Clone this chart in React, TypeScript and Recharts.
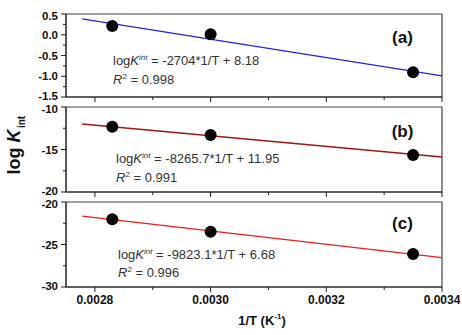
import React from 'react';
import {
  ComposedChart,
  Line,
  Scatter,
  XAxis,
  YAxis,
  ReferenceArea,
} from 'recharts';

// inverse temperature of the three measurements (1/K)
const invT = [0.00283, 0.003, 0.00335];
// intrinsic constants, one array per panel
const logKa = [0.21, 0.01, -0.905];
const logKb = [-12.32, -13.29, -15.65];
const logKc = [-22.04, -23.49, -26.12];

// ends of the fitted lines
const fitX = [0.002778, 0.0034];
const fitA = [0.38, -0.99];
const fitB = [-12.0, -15.88];
const fitC = [-21.65, -26.55];

const xDomain: [number, number] = [0.00275, 0.0034];
const xTicks = [0.0028, 0.003, 0.0032, 0.0034];
const xMinorTicks = [0.0029, 0.0031, 0.0033];

const yDomainA: [number, number] = [-1.5, 0.5];
const yTicksA = [0.5, 0, -0.5, -1, -1.5];
const yMinorA = [0.25, -0.25, -0.75, -1.25];
const yDomainB: [number, number] = [-20, -10];
const yTicksB = [-10, -15, -20];
const yMinorB = [-12.5, -17.5];
const yDomainC: [number, number] = [-30, -20];
const yTicksC = [-20, -25, -30];
const yMinorC = [-22.5, -27.5];

const equations = [
  { slope: '-2704', intercept: '8.18', r2: '0.998', tag: '(a)' },
  { slope: '-8265.7', intercept: '11.95', r2: '0.991', tag: '(b)' },
  { slope: '-9823.1', intercept: '6.68', r2: '0.996', tag: '(c)' },
];

const W = 462;
const H = 335;
const FONT = 'Liberation Sans, Arial, Helvetica, sans-serif';
const AXIS = '#222';
const X_AXIS_H = 30;
const Y_AXIS_W = 60;
const PLOT_LEFT = 66;

const pts = (ys: number[]) => invT.map((x, i) => ({ x, y: ys[i] }));
const fit = (ys: number[]) => fitX.map((x, i) => ({ x, y: ys[i] }));

const same = (a: number, b: number) => Math.abs(a - b) < 1e-9;
const isMajor = (list: number[], v: number) => list.some((t) => same(t, v));

// tick with a long mark + label for majors and a short bare mark for minors
function makeXTick(major: number[], labelled: boolean) {
  return (props: any) => {
    const { x, y, payload } = props;
    const big = isMajor(major, payload.value);
    return (
      <g>
        <line x1={x} y1={y} x2={x} y2={y + (big ? 5 : 3)} stroke={AXIS} strokeWidth={1} />
        {big && labelled && (
          <text
            x={x}
            y={y + 17}
            textAnchor="middle"
            fontSize={12}
            fontWeight={700}
            fill="#111"
            fontFamily={FONT}
          >
            {Number(payload.value).toFixed(4)}
          </text>
        )}
      </g>
    );
  };
}

// the panels sit close together, so the end labels are nudged inwards a little
function makeYTick(major: number[], domain: [number, number], digits: number) {
  return (props: any) => {
    const { x, y, payload } = props;
    const v = Number(payload.value);
    const big = isMajor(major, v);
    const nudge = same(v, domain[0]) ? -1.5 : same(v, domain[1]) ? 1.5 : 0;
    return (
      <g>
        <line x1={x - (big ? 5 : 3)} y1={y} x2={x} y2={y} stroke={AXIS} strokeWidth={1} />
        {big && (
          <text
            x={x - 8}
            y={y + 4 + nudge}
            textAnchor="end"
            fontSize={11.5}
            fontWeight={700}
            fill="#111"
            fontFamily={FONT}
          >
            {v.toFixed(digits)}
          </text>
        )}
      </g>
    );
  };
}

type PanelProps = {
  top: number;
  bottom: number;
  yDomain: [number, number];
  yTicks: number[];
  yMinor: number[];
  yDigits: number;
  points: { x: number; y: number }[];
  line: { x: number; y: number }[];
  color: string;
  showX: boolean;
};

function Panel(p: PanelProps) {
  return (
    <div style={{ position: 'absolute', left: 0, top: 0 }}>
      <ComposedChart
        width={W}
        height={H}
        margin={{
          top: p.top,
          bottom: H - p.bottom - X_AXIS_H,
          left: PLOT_LEFT - Y_AXIS_W,
          right: 20,
        }}
      >
        <XAxis
          dataKey="x"
          type="number"
          domain={xDomain}
          ticks={[...xTicks, ...xMinorTicks]}
          interval={0}
          allowDataOverflow
          height={X_AXIS_H}
          tickSize={0}
          tickMargin={0}
          tickLine={false}
          stroke={AXIS}
          tick={makeXTick(xTicks, p.showX)}
        />
        <YAxis
          dataKey="y"
          type="number"
          domain={p.yDomain}
          ticks={[...p.yTicks, ...p.yMinor]}
          interval={0}
          allowDataOverflow
          width={Y_AXIS_W}
          tickSize={0}
          tickMargin={0}
          tickLine={false}
          stroke={AXIS}
          tick={makeYTick(p.yTicks, p.yDomain, p.yDigits)}
        />
        <ReferenceArea
          x1={xDomain[0]}
          x2={xDomain[1]}
          y1={p.yDomain[0]}
          y2={p.yDomain[1]}
          fill="none"
          fillOpacity={0}
          stroke="#444"
          strokeWidth={1.2}
        />
        <Line
          data={p.line}
          dataKey="y"
          stroke={p.color}
          strokeWidth={1.3}
          dot={false}
          activeDot={false}
          isAnimationActive={false}
        />
        <Scatter
          data={p.points}
          dataKey="y"
          fill="#000"
          shape={(s: any) => <circle cx={s.cx} cy={s.cy} r={6} fill="#000" />}
          isAnimationActive={false}
        />
      </ComposedChart>
    </div>
  );
}

// positions of the in-panel annotations
const eqPos = [
  { x: 113, y1: 65, y2: 84, tagY: 43 },
  { x: 116, y1: 163, y2: 182, tagY: 137 },
  { x: 118, y1: 259, y2: 277, tagY: 229 },
];

export default function App() {
  return (
    <div
      style={{
        position: 'absolute',
        left: 0,
        top: 0,
        width: W,
        height: H,
        background: '#fff',
        overflow: 'hidden',
      }}
    >
      <Panel
        top={14}
        bottom={97}
        yDomain={yDomainA}
        yTicks={yTicksA}
        yMinor={yMinorA}
        yDigits={1}
        points={pts(logKa)}
        line={fit(fitA)}
        color="#2222dd"
        showX={false}
      />
      <Panel
        top={107}
        bottom={192}
        yDomain={yDomainB}
        yTicks={yTicksB}
        yMinor={yMinorB}
        yDigits={0}
        points={pts(logKb)}
        line={fit(fitB)}
        color="#9e1616"
        showX={false}
      />
      <Panel
        top={202}
        bottom={287}
        yDomain={yDomainC}
        yTicks={yTicksC}
        yMinor={yMinorC}
        yDigits={0}
        points={pts(logKc)}
        line={fit(fitC)}
        color="#ec1c1c"
        showX={true}
      />
      <svg
        width={W}
        height={H}
        style={{ position: 'absolute', left: 0, top: 0, pointerEvents: 'none' }}
        fontFamily={FONT}
      >
        {equations.map((e, i) => (
          <g key={e.tag}>
            <text x={eqPos[i].x} y={eqPos[i].y1} fontSize={13} fill="#333">
              log<tspan fontStyle="italic">K</tspan>
              <tspan fontStyle="italic" fontSize={8} dy={-5}>
                int
              </tspan>
              <tspan dy={5}>{` = ${e.slope}*1/T + ${e.intercept}`}</tspan>
            </text>
            <text x={eqPos[i].x} y={eqPos[i].y2} fontSize={13} fill="#333">
              <tspan fontStyle="italic">R</tspan>
              <tspan fontSize={8} dy={-5}>
                2
              </tspan>
              <tspan dy={5}>{` = ${e.r2}`}</tspan>
            </text>
            <text
              x={402.5}
              y={eqPos[i].tagY}
              fontSize={17}
              fontWeight={700}
              fill="#111"
              textAnchor="middle"
            >
              {e.tag}
            </text>
          </g>
        ))}
        <text
          transform="translate(20,152) rotate(-90)"
          textAnchor="middle"
          fontSize={18}
          fontWeight={700}
          fill="#111"
        >
          log <tspan fontStyle="italic">K</tspan>
        </text>
        <text
          transform="translate(25,122) rotate(-90)"
          textAnchor="middle"
          fontSize={10}
          fontWeight={700}
          fill="#111"
        >
          int
        </text>
        <text x={262} y={325} textAnchor="middle" fontSize={13} fontWeight={700} fill="#111">
          1/T (K
          <tspan fontSize={8} dy={-6}>
            -1
          </tspan>
          <tspan dy={6}>)</tspan>
        </text>
      </svg>
    </div>
  );
}
